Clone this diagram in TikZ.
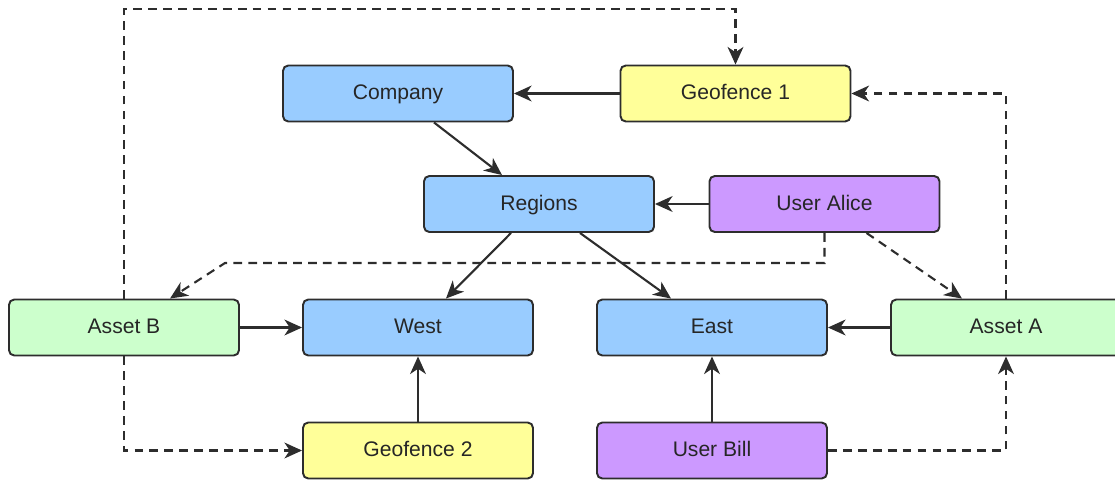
\documentclass[tikz,border=0pt]{standalone}
\usepackage{fontspec}
\setmainfont{Liberation Sans}
\usepackage{tikz}
\usetikzlibrary{arrows.meta,calc}
\usepackage{xcolor}
\definecolor{boxblue}{RGB}{153,204,255}
\definecolor{boxyellow}{RGB}{255,255,153}
\definecolor{boxpurple}{RGB}{204,153,255}
\definecolor{boxgreen}{RGB}{204,255,204}
\definecolor{edgegray}{RGB}{45,45,45}

\begin{document}
\begin{tikzpicture}[>={Stealth[length=10pt,width=9pt,inset=3pt]},
    box/.style={draw=edgegray,line width=1.1pt,rounded corners=3pt,
        minimum width=4.6cm,minimum height=1.12cm,inner sep=0pt,
        text height=0.9em,text depth=0.18em,
        font=\fontsize{12}{14}\selectfont,text=black!85},
    link/.style={->,draw=edgegray,line width=1.2pt},
    dlink/.style={link,dash pattern=on 5pt off 3.5pt}]
    \clip (0,0) rectangle (22.3,9.6);

    % Boxes
    \node[box,fill=boxblue] (company) at (7.96,7.73) {Company};
    \node[box,fill=boxyellow] (geo1) at (14.71,7.73) {Geofence 1};
    \node[box,fill=boxblue] (regions) at (10.78,5.52) {Regions};
    \node[box,fill=boxpurple] (alice) at (16.49,5.52) {User Alice};
    \node[box,fill=boxgreen] (assetb) at (2.48,3.05) {Asset B};
    \node[box,fill=boxblue] (west) at (8.36,3.05) {West};
    \node[box,fill=boxblue] (east) at (14.24,3.05) {East};
    \node[box,fill=boxgreen] (asseta) at (20.12,3.05) {Asset A};
    \node[box,fill=boxyellow] (geo2) at (8.36,0.59) {Geofence 2};
    \node[box,fill=boxpurple] (bill) at (14.24,0.59) {User Bill};

    % Hierarchy
    \draw[link] (geo1.west) -- (company.east);
    \draw[link] ([xshift=0.72cm]company.south) -- ([xshift=-0.74cm]regions.north);
    \draw[link] (alice.west) -- (regions.east);
    \draw[link] ([xshift=-0.56cm]regions.south) -- ([xshift=0.56cm]west.north);
    \draw[link] ([xshift=0.82cm]regions.south) -- ([xshift=-0.82cm]east.north);
    \draw[link] (assetb.east) -- (west.west);
    \draw[link] (asseta.west) -- (east.east);
    \draw[link] (geo2.north) -- (west.south);
    \draw[link] (bill.north) -- (east.south);

    % Assignments
    \coordinate (toprow) at (0,9.42);
    \coordinate (midrow) at (4.5,4.34);
    \draw[dlink] (assetb.north) -- (assetb.north |- toprow) -- (geo1.north |- toprow) -- (geo1.north);
    \draw[dlink] (asseta.north) |- (geo1.east);
    \draw[dlink] (alice.south) -- (alice.south |- midrow) -- (midrow) -- ([xshift=0.92cm]assetb.north);
    \draw[dlink] ([xshift=0.84cm]alice.south) -- ([xshift=-0.88cm]asseta.north);
    \draw[dlink] (assetb.south) |- (geo2.west);
    \draw[dlink] (bill.east) -| (asseta.south);
\end{tikzpicture}
\end{document}
